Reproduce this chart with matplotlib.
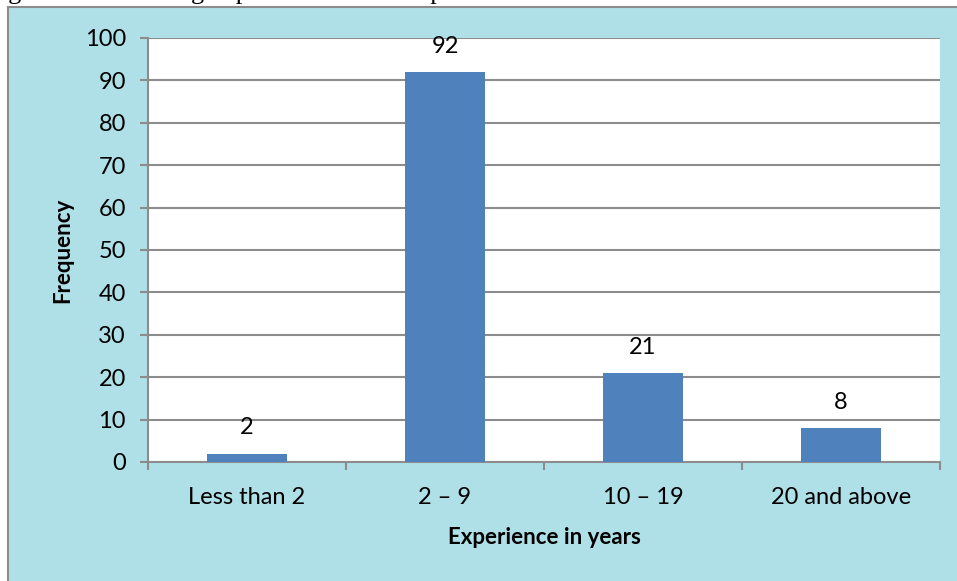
import matplotlib.pyplot as plt
import matplotlib
import numpy as np

matplotlib.rcParams['font.family'] = ['Lato', 'DejaVu Sans']

categories = ['Less than 2', '2 – 9', '10 – 19', '20 and above']
frequency = [2, 92, 21, 8]
caption = 'Figure 4.5: Teaching experience of the respondents'

W, H = 957, 581
fig = plt.figure(figsize=(W / 100, H / 100), dpi=100, facecolor='white')

# textured panel stand-in
bg = fig.add_axes([8 / W, 0, 1 - 8 / W, 1 - 7 / H])
bg.set_facecolor('#afe0e8')
bg.set_xticks([])
bg.set_yticks([])
for side in ['right', 'bottom']:
    bg.spines[side].set_visible(False)
for side in ['left', 'top']:
    bg.spines[side].set_color('#8c8c8c')
    bg.spines[side].set_linewidth(1.5)

# caption cut off at the top of the picture, as in the source
fig.text(-14 / W, 1 + 1 / H, caption, family='Liberation Serif', fontsize=19,
         va='baseline', ha='left', color='black')

ax = fig.add_axes([148 / W, 1 - 462 / H, 792 / W, 424 / H])
ax.set_facecolor('white')
x = np.arange(len(categories))
ax.bar(x, frequency, width=0.4, color='#4f81bd', zorder=3)
ax.set_xlim(-0.5, len(categories) - 0.5)
ax.set_ylim(0, 100)
ax.set_yticks(range(0, 101, 10))
ax.yaxis.grid(True, color='#8c8c8c', linewidth=1.5, zorder=0)
ax.set_axisbelow(True)

ax.set_xticks(np.arange(-0.5, len(categories), 1.0))
ax.set_xticklabels([])
ax.set_xticks(x, minor=True)
ax.set_xticklabels(categories, minor=True, fontsize=17)
ax.tick_params(axis='x', which='minor', length=0, pad=18)
ax.tick_params(axis='x', which='major', length=6, width=1.5, color='#8c8c8c')
ax.tick_params(axis='y', length=6, width=1.5, color='#8c8c8c', labelsize=17, pad=10)

for side in ['top', 'right']:
    ax.spines[side].set_visible(False)
for side in ['left', 'bottom']:
    ax.spines[side].set_color('#8c8c8c')
    ax.spines[side].set_linewidth(1.5)

for xi, v in zip(x, frequency):
    ax.annotate(str(v), (xi, v), xytext=(0, 11), textcoords='offset points',
                ha='center', va='bottom', fontsize=17)

ax.set_xlabel('Experience in years', fontsize=16, fontweight='bold', labelpad=14)
ax.set_ylabel('Frequency', fontsize=16, fontweight='bold', labelpad=8)

fig.savefig('out.png', dpi=100)
